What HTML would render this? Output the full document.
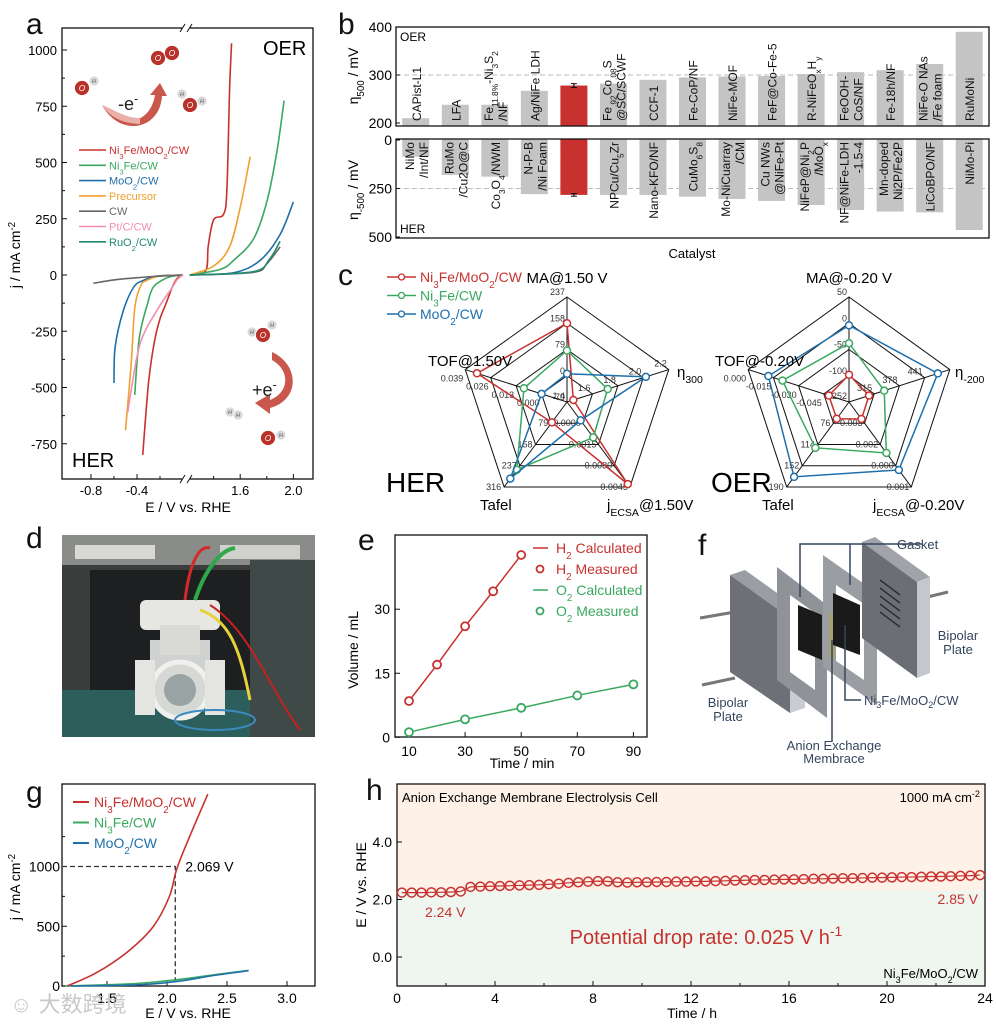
<!DOCTYPE html>
<html><head><meta charset="utf-8"><style>
html,body{margin:0;padding:0;background:#fff}
svg{display:block;font-family:"Liberation Sans","Noto Sans CJK SC",sans-serif}
</style></head><body>
<svg id="fig" width="996" height="1026" viewBox="0 0 996 1026" xmlns="http://www.w3.org/2000/svg">
<rect x="0" y="0" width="996" height="1026" fill="#fff"/>
<g font-size="30" fill="#111">
<text x="26" y="34">a</text>
<text x="338" y="34">b</text>
<text x="338" y="285">c</text>
<text x="26" y="548">d</text>
<text x="358" y="550">e</text>
<text x="698" y="555">f</text>
<text x="26" y="802">g</text>
<text x="366" y="800">h</text>
</g>
<g id="pa"></g>
<g id="pb"></g>
<g id="pc"></g>
<g id="pd">
 <rect x="62" y="535" width="253" height="202" fill="#3a3d3c"/>
 <rect x="62" y="535" width="253" height="30" fill="#8a8c8a"/>
 <rect x="75" y="545" width="80" height="14" fill="#d8d8d4"/>
 <rect x="220" y="545" width="80" height="14" fill="#d0d0cc"/>
 <rect x="62" y="690" width="253" height="47" fill="#2c5f5c"/>
 <rect x="90" y="570" width="190" height="120" fill="#1d1f20"/>
 <rect x="250" y="560" width="65" height="177" fill="#3f4a48"/>
 <path d="M150 640 h60 v40 h-60 z" fill="#cfd2d0"/>
 <rect x="140" y="600" width="80" height="30" rx="6" fill="#e6e6e2"/>
 <rect x="160" y="625" width="40" height="30" fill="#d9d9d5"/>
 <circle cx="180" cy="690" r="28" fill="#d6d8d6" stroke="#f0f0ee" stroke-width="5"/>
 <circle cx="180" cy="690" r="16" fill="#9aa3a3"/>
 <rect x="135" y="660" width="20" height="55" fill="#e4e4e0"/>
 <rect x="205" y="660" width="20" height="55" fill="#e4e4e0"/>
 <path d="M185 600 C190 560 200 545 210 548" stroke="#d62a2a" stroke-width="3" fill="none"/>
 <path d="M195 600 C205 570 220 550 235 548" stroke="#2fa84a" stroke-width="4" fill="none"/>
 <path d="M200 610 C230 620 240 650 250 700" stroke="#e8d23a" stroke-width="3" fill="none"/>
 <path d="M210 605 C250 630 270 690 300 730" stroke="#c62020" stroke-width="2" fill="none"/>
 <ellipse cx="215" cy="720" rx="40" ry="10" fill="none" stroke="#3a8ac0" stroke-width="2"/>
</g>
<g id="pe"></g>
<g id="pf">
 <line x1="700" y1="618" x2="735" y2="612" stroke="#777" stroke-width="3"/>
 <line x1="702" y1="685" x2="735" y2="678" stroke="#777" stroke-width="3"/>
 <line x1="915" y1="600" x2="948" y2="592" stroke="#777" stroke-width="3"/>
 <polygon points="730,575 745,570 805,613 790,618" fill="#9a9ea3"/>
 <polygon points="790,618 805,613 805,708 790,713" fill="#c9cdd1"/>
 <polygon points="730,575 790,618 790,713 730,672" fill="#6d7177"/>
 <polygon points="777,567 827,605 827,718 777,680" fill="#8f9398"/>
 <polygon points="790,595 815,613 815,690 790,672" fill="#fff"/>
 <polygon points="798,605 822,615 822,660 798,650" fill="#1a1a1a"/>
 <polygon points="823,555 877,593 877,705 823,667" fill="#9a9ea3"/>
 <polygon points="836,585 864,604 864,680 836,661" fill="#fff"/>
 <polygon points="829,612 835,615 835,660 829,657" fill="#a8a070"/>
 <polygon points="833,593 860,605 860,655 833,645" fill="#1a1a1a"/>
 <polygon points="862,542 875,537 930,577 917,582" fill="#a0a4a9"/>
 <polygon points="917,582 930,577 930,673 917,678" fill="#c4c8cc"/>
 <polygon points="862,542 917,582 917,678 862,638" fill="#6b6f75"/>
 <g stroke="#2a2c30" stroke-width="1.5"><line x1="880" y1="580" x2="900" y2="595"/><line x1="880" y1="588" x2="900" y2="603"/><line x1="880" y1="596" x2="900" y2="611"/><line x1="880" y1="604" x2="900" y2="619"/><line x1="880" y1="612" x2="900" y2="627"/></g>
 <g stroke="#34465e" stroke-width="1.5" fill="none">
  <polyline points="800,597 800,544 922,544"/><line x1="850" y1="544" x2="850" y2="585"/>
  <polyline points="845,625 845,700 861,700"/><line x1="832" y1="640" x2="832" y2="742"/>
 </g>
 <g fill="#34465e" font-size="13">
  <text x="897" y="549">Gasket</text>
  <text x="958" y="640" text-anchor="middle">Bipolar</text>
  <text x="958" y="654" text-anchor="middle">Plate</text>
  <text x="728" y="707" text-anchor="middle">Bipolar</text>
  <text x="728" y="721" text-anchor="middle">Plate</text>
  <text x="864" y="705">Ni<tspan font-size="9" dy="3">3</tspan><tspan dy="-3">Fe/MoO</tspan><tspan font-size="9" dy="3">2</tspan><tspan dy="-3">/CW</tspan></text>
  <text x="834" y="750" text-anchor="middle">Anion Exchange</text>
  <text x="834" y="763" text-anchor="middle">Membrace</text>
 </g>
</g>
<g id="pg"></g>
<g id="ph"></g>
<text x="10" y="1012" font-size="22" fill="#bbb" opacity="0.8">☺ 大数跨境</text>
</svg>
<script>
const NS='http://www.w3.org/2000/svg';
/* ---------- data: panel a ---------- */
const aNames=['Ni3Fe/MoO2/CW','Ni3Fe/CW','MoO2/CW','Precursor','CW','Pt/C/CW','RuO2/CW'];
const aLegend=['Ni_{3}Fe/MoO_{2}/CW','Ni_{3}Fe/CW','MoO_{2}/CW','Precursor','CW','Pt/C/CW','RuO_{2}/CW'];
const aColors=['#c8312f','#3aa860','#1f6fab','#f0a030','#666666','#f08fb0','#1f8a70'];
const aHER=[
 [[0,0],[-0.05,-15],[-0.09,-50],[-0.15,-130],[-0.2,-195],[-0.25,-300],[-0.3,-480],[-0.35,-800]],
 [[0,0],[-0.1,-6],[-0.17,-20],[-0.26,-55],[-0.31,-130],[-0.38,-280],[-0.42,-533]],
 [[0,0],[-0.23,-5],[-0.35,-25],[-0.43,-55],[-0.52,-160],[-0.59,-320],[-0.6,-480]],
 [[0,0],[-0.2,-5],[-0.32,-25],[-0.37,-50],[-0.42,-150],[-0.45,-390],[-0.5,-690]],
 [[0,0],[-0.2,-5],[-0.4,-12],[-0.6,-22],[-0.78,-37]],
 [[0,0],[-0.05,-20],[-0.1,-60],[-0.23,-160],[-0.37,-300],[-0.45,-510],[-0.48,-610]],
 []];
const aOER=[
 [[1.22,0],[1.34,18],[1.36,130],[1.40,245],[1.475,270],[1.5,380],[1.52,820],[1.535,1030]],
 [[1.22,0],[1.45,25],[1.55,65],[1.7,160],[1.8,325],[1.875,545],[1.93,775]],
 [[1.22,0],[1.55,10],[1.75,65],[1.9,180],[2.0,325]],
 [[1.22,0],[1.4,40],[1.52,125],[1.6,300],[1.675,525]],
 [[1.22,0],[1.7,12],[1.8,50],[1.9,125]],
 [],
 [[1.22,0],[1.7,15],[1.82,70],[1.9,150]]];
const aYTicks=[1000,750,500,250,0,-250,-500,-750];
const aXTicksL=[-0.8,-0.4];
const aXTicksR=[1.6,2.0];
/* ---------- data: panel b ---------- */
const bOerLabels=[['CAPist-L1'],['LFA'],['Fe_{11.8%}-Ni_{3}S_{2}','/NF'],['Ag/NiFe LDH'],['This','Work'],['Fe_{.92}Co_{.08}S','@SC/SCWF'],['CCF-1'],['Fe-CoP/NF'],['NiFe-MOF'],['FeF@Co-Fe-5'],['R-NiFeO_{x}H_{y}'],['FeOOH-','CoS/NF'],['Fe-18h/NF'],['NiFe-O NAs','/Fe foam'],['RuMoNi']];
const bOerVals=[210,238,238,267,278,282,290,295,297,298,302,306,310,323,390];
const bHerLabels=[['NiMo','/Int/NF'],['RuMo','/Cu2O@C'],['Co_{3}O_{4}/NWM'],['N-P-B','/Ni Foam'],['This','Work'],['NPCu/Cu_{5}Zr'],['Nano-KFO/NF'],['CuMo_{6}S_{8}'],['Mo-NiCuarray','/CM'],['Cu NWs','@NiFe-Pt'],['NiFeP@Ni_{2}P','/MoO_{x}'],['NF@NiFe-LDH','-1.5-4'],['Mn-doped','Ni2P/Fe2P'],['LiCoBPO/NF'],['NiMo-Pi']];
const bHerVals=[86,180,189,279,283,283,283,292,304,314,335,361,369,373,464];
const bHighlight=4;
const bOerTicks=[200,300,400];
const bHerTicks=[0,250,500];
/* ---------- data: panel c ---------- */
const cSeries=['Ni3Fe/MoO2/CW','Ni3Fe/CW','MoO2/CW'];
const cColors=['#c8312f','#3aa860','#1f6fab'];
const herMin=[-79,1.4,-0.0015,0,-0.013];
const herMax=[237,2.2,0.0045,316,0.039];
const herRed=[158,1.45,0.0043,76,0.033];
const herGreen=[76,1.72,0.0010,252,0.009];
const herBlue=[6,2.02,-0.0002,285,0.000];
const herTicks=[['-79','0','79','158','237'],['1.4','1.6','1.8','2.0','2.2'],['','0.0000','0.0015','0.0030','0.0045'],['','79','158','237','316'],['','0.000','0.013','0.026','0.039']];
const oerMin=[-150,252,0.004,38,-0.060];
const oerMax=[50,504,-0.001,190,0.015];
const oerRed=[-98,302,0.003,68,-0.045];
const oerGreen=[-38,340,0.001,120,-0.0105];
const oerBlue=[-4,474,0.000,172,0.000];
const oerTicks=[['','-100','-50','0','50'],['252','315','378','441',''],['','0.003','0.002','0.000','0.001'],['','76','114','152','190'],['','-0.045','-0.030','-0.015','0.000']];
/* ---------- data: panel e ---------- */
const eH2Time=[10,20,30,40,50];
const eH2Vol=[8.5,17,26,34.2,42.7];
const eO2Time=[10,30,50,70,90];
const eO2Vol=[1.2,4.2,6.9,9.8,12.4];
const eXTicks=[10,30,50,70,90];
const eYTicks=[0,15,30];
/* ---------- data: panel g ---------- */
const gRed=[[1.17,0],[1.41,110],[1.67,285],[1.885,497],[2.02,750],[2.08,975],[2.18,1230],[2.34,1605]];
const gGreen=[[1.15,0],[1.5,10],[1.8,25],[2.1,55],[2.4,95],[2.68,130]];
const gBlue=[[1.2,0],[1.5,4],[1.8,12],[2.1,40],[2.4,90],[2.68,128]];
const gMark=[2.069,1000];
const gXTicks=[1.5,2.0,2.5,3.0];
const gYTicks=[0,500,1000];
/* ---------- data: panel h ---------- */
const hTime=[0.2,0.6,1.0,1.4,1.8,2.2,2.6,3.0,3.4,3.8,4.2,4.6,5.0,5.4,5.8,6.2,6.6,7.0,7.4,7.8,8.2,8.6,9.0,9.4,9.8,10.2,10.6,11.0,11.4,11.8,12.2,12.6,13.0,13.4,13.8,14.2,14.6,15.0,15.4,15.8,16.2,16.6,17.0,17.4,17.8,18.2,18.6,19.0,19.4,19.8,20.2,20.6,21.0,21.4,21.8,22.2,22.6,23.0,23.4,23.8];
const hVolt=[2.24,2.24,2.24,2.25,2.25,2.26,2.28,2.44,2.45,2.46,2.47,2.48,2.49,2.50,2.51,2.53,2.55,2.58,2.60,2.62,2.64,2.63,2.60,2.59,2.60,2.60,2.61,2.61,2.62,2.62,2.63,2.63,2.64,2.65,2.66,2.67,2.68,2.68,2.69,2.70,2.70,2.71,2.72,2.72,2.73,2.74,2.74,2.75,2.76,2.76,2.77,2.78,2.78,2.79,2.80,2.80,2.81,2.82,2.83,2.85];
const hXTicks=[0,4,8,12,16,20,24];
const hYTicks=[0.0,2.0,4.0];

/* ---------- helpers ---------- */
function mk(tag,attrs,parent){const e=document.createElementNS(NS,tag);for(const k in attrs)e.setAttribute(k,attrs[k]);parent.appendChild(e);return e;}
function rich(el,s){
 const re=/([_^])\{([^}]*)\}/g;let last=0,m;
 while((m=re.exec(s))){
  if(m.index>last){const t=mk('tspan',{},el);t.textContent=s.slice(last,m.index);}
  const t=mk('tspan',{'font-size':'70%','baseline-shift':m[1]==='_'?'sub':'super'},el);t.textContent=m[2];last=re.lastIndex;}
 if(last<s.length){const t=mk('tspan',{},el);t.textContent=s.slice(last);}
}
function txt(parent,x,y,s,attrs){const e=mk('text',Object.assign({x:x,y:y},attrs||{}),parent);rich(e,s);return e;}
function smooth(pts){
 if(pts.length<3)return 'M'+pts.map(p=>p.join(' ')).join(' L');
 let d='M'+pts[0][0]+' '+pts[0][1];
 for(let i=0;i<pts.length-1;i++){
  const p0=pts[i-1]||pts[i],p1=pts[i],p2=pts[i+1],p3=pts[i+2]||p2;
  const c1=[p1[0]+(p2[0]-p0[0])/6,p1[1]+(p2[1]-p0[1])/6],c2=[p2[0]-(p3[0]-p1[0])/6,p2[1]-(p3[1]-p1[1])/6];
  d+=' C'+c1.join(' ')+' '+c2.join(' ')+' '+p2.join(' ');}
 return d;}

/* ---------- panel a ---------- */
(function(){
 const g=document.getElementById('pa');
 const xL=E=>183+115*E, xR=E=>187+133*(E-1.2), y=j=>275-0.225*j;
 mk('rect',{x:62,y:28,width:251,height:451,fill:'none',stroke:'#111','stroke-width':1.3},g);
 aYTicks.forEach(v=>{mk('line',{x1:62,y1:y(v),x2:67,y2:y(v),stroke:'#111'},g);
  const t=txt(g,57,y(v)+5,String(v),{'text-anchor':'end','font-size':13});
  
  });
 aYTicks.slice(0,-1).forEach(v=>{mk('line',{x1:62,y1:y(v-125),x2:65,y2:y(v-125),stroke:'#111'},g);});
 aXTicksL.forEach(v=>{mk('line',{x1:xL(v),y1:479,x2:xL(v),y2:474,stroke:'#111'},g);
  const t=txt(g,xL(v),495,v.toFixed(1),{'text-anchor':'middle','font-size':13});
  
  });
 aXTicksR.forEach(v=>{mk('line',{x1:xR(v),y1:479,x2:xR(v),y2:474,stroke:'#111'},g);
  const t=txt(g,xR(v),495,v.toFixed(1),{'text-anchor':'middle','font-size':13});
  
  });
 [-0.6,-0.2].forEach(v=>mk('line',{x1:xL(v),y1:479,x2:xL(v),y2:476,stroke:'#111'},g));
 [1.4,1.8].forEach(v=>mk('line',{x1:xR(v),y1:479,x2:xR(v),y2:476,stroke:'#111'},g));
 [28,479].forEach(yy=>{mk('rect',{x:182,y:yy-3,width:8,height:6,fill:'#fff'},g);
  mk('line',{x1:180,y1:yy+4,x2:185,y2:yy-4,stroke:'#111'},g);mk('line',{x1:187,y1:yy+4,x2:192,y2:yy-4,stroke:'#111'},g);});
 const yt=txt(g,0,0,'j / mA cm^{-2}',{'font-size':14,transform:'translate(20,255) rotate(-90)','text-anchor':'middle'});
 
 
 const xt=txt(g,188,512,'E / V vs. RHE',{'font-size':14,'text-anchor':'middle'});
 
 
 txt(g,263,55,'OER',{'font-size':20});
 txt(g,72,467,'HER',{'font-size':20});
 aNames.forEach((n,i)=>{
  if(aHER[i].length){const p=mk('path',{d:smooth(aHER[i].map(q=>[xL(q[0]),y(q[1])])),fill:'none',stroke:aColors[i],'stroke-width':1.6},g);
   
   }
  if(aOER[i].length){const p=mk('path',{d:smooth(aOER[i].map(q=>[xR(q[0]),y(q[1])])),fill:'none',stroke:aColors[i],'stroke-width':1.6},g);
   
   }
  const yy=150+i*15.3;
  mk('line',{x1:79,y1:yy,x2:106,y2:yy,stroke:aColors[i],'stroke-width':1.6},g);
  const t=txt(g,109,yy+4,aLegend[i],{'font-size':11,fill:aColors[i]});
  
  
 });
 function atom(cx,cy,r,f,l,col){mk('circle',{cx:cx,cy:cy,r:r,fill:f,stroke:'#fff','stroke-width':0.8},g);txt(g,cx,cy+r*0.4,l,{'font-size':r*1.1,'text-anchor':'middle',fill:col,'font-style':'italic'});}
 const R='#b8312a',H='#d8d8d8';
 atom(158,58,7.5,R,'O','#fff');atom(172,53,7.5,R,'O','#fff');
 atom(94,81,5,H,'H','#555');atom(82,88,7.5,R,'O','#fff');
 atom(182,94,5,H,'H','#555');atom(202,101,5,H,'H','#555');atom(190,105,7.5,R,'O','#fff');
 mk('path',{d:'M102 105 C120 130 150 125 155 95 L150 95 L160 83 L167 96 L162 96 C160 130 120 138 102 105 Z',fill:'#c0392b',opacity:0.85},g);
 mk('path',{d:'M102 105 C115 110 125 118 140 118 L140 124 C125 124 110 118 102 105 Z',fill:'#e8b0a8'},g);
 txt(g,118,110,'-e^{-}',{'font-size':18,fill:'#222'});
 atom(252,332,5,H,'H','#555');atom(272,325,5,H,'H','#555');atom(263,335,7.5,R,'O','#fff');
 mk('path',{d:'M272 352 C300 365 300 400 270 408 L270 414 L255 403 L270 394 L270 400 C290 392 290 370 272 360 Z',fill:'#c0392b',opacity:0.85},g);
 txt(g,252,396,'+e^{-}',{'font-size':18,fill:'#222'});
 atom(230,412,5,H,'H','#555');atom(238,415,5,H,'H','#555');
 atom(268,438,7.5,R,'O','#fff');atom(281,435,5,H,'H','#555');
})();

/* ---------- panel b ---------- */
(function(){
 const g=document.getElementById('pb');
 const x0=396,x1=989,n=bOerVals.length,w=(x1-x0)/n;
 const yO=v=>123-(v-200)*0.48, yH=v=>140+v*0.194;
 const cx=i=>x0+w*(i+0.5);
 mk('line',{x1:x0,y1:yO(300),x2:x1,y2:yO(300),stroke:'#bbb','stroke-dasharray':'5 3'},g);
 mk('line',{x1:x0,y1:yH(250),x2:x1,y2:yH(250),stroke:'#bbb','stroke-dasharray':'5 3'},g);
 bOerVals.forEach((v,i)=>{const b=mk('rect',{x:cx(i)-13.5,y:yO(v),width:27,height:126-yO(v),fill:i===bHighlight?'#c8312f':'#c4c4c4'},g);
  
  });
 bHerVals.forEach((v,i)=>{const b=mk('rect',{x:cx(i)-13.5,y:139,width:27,height:yH(v)-139,fill:i===bHighlight?'#c8312f':'#c4c4c4'},g);
  
  });
 const ec=cx(bHighlight);
 [[yO(bOerVals[bHighlight]-4),yO(bOerVals[bHighlight]+4)],[yH(bHerVals[bHighlight]-7),yH(bHerVals[bHighlight]+7)]].forEach(p=>{
  mk('line',{x1:ec,y1:p[0],x2:ec,y2:p[1],stroke:'#111','stroke-width':1.2},g);
  mk('line',{x1:ec-3,y1:p[0],x2:ec+3,y2:p[0],stroke:'#111'},g);mk('line',{x1:ec-3,y1:p[1],x2:ec+3,y2:p[1],stroke:'#111'},g);});
 mk('rect',{x:x0,y:27,width:x1-x0,height:99,fill:'none',stroke:'#111','stroke-width':1.3},g);
 mk('rect',{x:x0,y:139,width:x1-x0,height:99,fill:'none',stroke:'#111','stroke-width':1.3},g);
 bOerLabels.forEach((L,i)=>{L.forEach((s,k)=>{
  const xx=cx(i)+(L.length===1?5:(k===0?-2:12));
  const t=txt(g,0,0,s,{'font-size':12,fill:i===bHighlight?'#c8312f':'#111',transform:`translate(${xx},121) rotate(-90)`});
  
  });});
 bHerLabels.forEach((L,i)=>{L.forEach((s,k)=>{
  const xx=cx(i)+(L.length===1?5:(k===0?-2:12));
  const t=txt(g,0,0,s,{'font-size':12,'text-anchor':'end',fill:i===bHighlight?'#c8312f':'#111',transform:`translate(${xx},142) rotate(-90)`});
  
  });});
 bOerTicks.forEach(v=>{mk('line',{x1:x0,y1:yO(v),x2:x0+4,y2:yO(v),stroke:'#111'},g);
  const t=txt(g,x0-4,yO(v)+5,String(v),{'text-anchor':'end','font-size':14});
  
  });
 bHerTicks.forEach(v=>{mk('line',{x1:x0,y1:yH(v),x2:x0+4,y2:yH(v),stroke:'#111'},g);
  const t=txt(g,x0-4,yH(v)+5,String(v),{'text-anchor':'end','font-size':14});
  
  });
 txt(g,400,41,'OER',{'font-size':12});
 txt(g,400,233,'HER',{'font-size':12});
 const t1=txt(g,0,0,'η_{500} / mV',{'font-size':14,'text-anchor':'middle',transform:'translate(358,76) rotate(-90)'});
 
 
 const t2=txt(g,0,0,'η_{-500} / mV',{'font-size':14,'text-anchor':'middle',transform:'translate(358,190) rotate(-90)'});
 
 
 const t3=txt(g,692,258,'Catalyst',{'font-size':13,'text-anchor':'middle'});
 
 
})();

/* ---------- panel c ---------- */
(function(){
 const g=document.getElementById('pc');
 function radar(cx,cy,rx,ry,mins,maxs,series,ticks,labels,title){
  const ang=k=>(-90+72*k)*Math.PI/180;
  const pt=(k,f)=>[cx+rx*f*Math.cos(ang(k)),cy+ry*f*Math.sin(ang(k))];
  [0.25,0.5,0.75,1].forEach(f=>{mk('polygon',{points:[0,1,2,3,4].map(k=>pt(k,f).join(',')).join(' '),fill:'none',stroke:'#111','stroke-width':1},g);});
  [0,1,2,3,4].forEach(k=>{const p=pt(k,1);mk('line',{x1:cx,y1:cy,x2:p[0],y2:p[1],stroke:'#111','stroke-width':1},g);
   ticks[k].forEach((s,j)=>{if(!s)return;const q=pt(k,j*0.25);
    const dx=k===4?-2:(k===3?-3:-2), dy=k===4?12:(k===0?-2:(k===1?-3:3));
    txt(g,q[0]+dx,q[1]+dy,s,{'font-size':9,'text-anchor':k===1||k===2?'end':'end',fill:'#333'});});});
  series.forEach((vals,si)=>{
   const pts=vals.map((v,k)=>pt(k,(v-mins[k])/(maxs[k]-mins[k])));
   const pg=mk('polygon',{points:pts.map(p=>p.join(',')).join(' '),fill:'none',stroke:cColors[si],'stroke-width':1.5},g);
   
   
   pts.forEach(p=>{const c=mk('circle',{cx:p[0],cy:p[1],r:3.5,fill:'#fff',stroke:cColors[si],'stroke-width':1.5},g);
    
    });
  });
  labels.forEach(L=>{const t=txt(g,L[1],L[2],L[0],{'font-size':15,'text-anchor':L[3]||'start'});
   
   });
  txt(g,title[1],title[2],title[0],{'font-size':28});
 }
 radar(567,402,107,105,herMin,herMax,[herRed,herGreen,herBlue],herTicks,
  [['MA@1.50 V',567,283,'middle'],['TOF@1.50V',428,366],['η_{300}',677,377],['Tafel',480,510],['j_{ECSA}@1.50V',607,510]],['HER',386,492]);
 radar(849,402,106,105,oerMin,oerMax,[oerRed,oerGreen,oerBlue],oerTicks,
  [['MA@-0.20 V',849,283,'middle'],['TOF@-0.20V',715,366],['η_{-200}',955,377],['Tafel',762,510],['j_{ECSA}@-0.20V',873,510]],['OER',711,492]);
 cSeries.forEach((s,i)=>{const yy=277+i*18.5;
  mk('line',{x1:387,y1:yy,x2:416,y2:yy,stroke:cColors[i],'stroke-width':1.5},g);
  mk('circle',{cx:401.5,cy:yy,r:3,fill:'#fff',stroke:cColors[i],'stroke-width':1.3},g);
  const t=txt(g,420,yy+5,['Ni_{3}Fe/MoO_{2}/CW','Ni_{3}Fe/CW','MoO_{2}/CW'][i],{'font-size':14,fill:cColors[i]});
  
  });
})();

/* ---------- panel e ---------- */
(function(){
 const g=document.getElementById('pe');
 const x=t=>409+(t-10)*2.805, y=v=>737.3-v*4.27;
 mk('rect',{x:395,y:535,width:252,height:202,fill:'none',stroke:'#111','stroke-width':1.3},g);
 eXTicks.forEach(v=>{mk('line',{x1:x(v),y1:737,x2:x(v),y2:732,stroke:'#111'},g);
  const t=txt(g,x(v),756,String(v),{'text-anchor':'middle','font-size':14});
  
  });
 eYTicks.forEach(v=>{mk('line',{x1:395,y1:y(v),x2:400,y2:y(v),stroke:'#111'},g);
  const t=txt(g,390,y(v)+5,String(v),{'text-anchor':'end','font-size':14});
  
  });
 const tx=txt(g,522,768,'Time / min',{'text-anchor':'middle','font-size':14});
 
 
 const ty=txt(g,0,0,'Volume / mL',{'text-anchor':'middle','font-size':14,transform:'translate(358,650) rotate(-90)'});
 
 
 [[eH2Time,eH2Vol,'#c8312f'],[eO2Time,eO2Vol,'#3aa860']].forEach(S=>{
  const l=mk('polyline',{points:S[0].map((t,i)=>x(t)+','+y(S[1][i])).join(' '),fill:'none',stroke:S[2],'stroke-width':1.5},g);
  
  
  S[0].forEach((t,i)=>{const c=mk('circle',{cx:x(t),cy:y(S[1][i]),r:4,fill:'#fff',stroke:S[2],'stroke-width':1.8},g);
   
   });
 });
 const leg=[['—','H_{2} Calculated','#c8312f'],['o','H_{2} Measured','#c8312f'],['—','O_{2} Calculated','#3aa860'],['o','O_{2} Measured','#3aa860']];
 leg.forEach((L,i)=>{const yy=548+i*21;
  if(L[0]==='—')mk('line',{x1:533,y1:yy,x2:548,y2:yy,stroke:L[2],'stroke-width':1.5},g);
  else mk('circle',{cx:540,cy:yy,r:3.5,fill:'#fff',stroke:L[2],'stroke-width':1.8},g);
  const t=txt(g,556,yy+5,L[1],{'font-size':14,fill:L[2]});
  
  });
})();

/* ---------- panel g ---------- */
(function(){
 const g=document.getElementById('pg');
 const x=E=>107+120*(E-1.5), y=j=>986-0.1195*j;
 mk('rect',{x:62,y:784,width:253,height:202,fill:'none',stroke:'#111','stroke-width':1.3},g);
 gXTicks.forEach(v=>{mk('line',{x1:x(v),y1:986,x2:x(v),y2:981,stroke:'#111'},g);
  const t=txt(g,x(v),1003,v.toFixed(1),{'text-anchor':'middle','font-size':14});
  
  });
 gYTicks.forEach(v=>{mk('line',{x1:62,y1:y(v),x2:67,y2:y(v),stroke:'#111'},g);
  const t=txt(g,60,y(v)+5,String(v),{'text-anchor':'end','font-size':14});
  
  });
 [250,750,1250].forEach(v=>mk('line',{x1:62,y1:y(v),x2:65,y2:y(v),stroke:'#111'},g));
 const ty=txt(g,0,0,'j / mA cm^{-2}',{'text-anchor':'middle','font-size':14,transform:'translate(20,887) rotate(-90)'});
 
 
 const tx=txt(g,188,1018,'E / V vs. RHE',{'text-anchor':'middle','font-size':14});
 
 
 mk('polyline',{points:`62,${y(gMark[1])} ${x(gMark[0])},${y(gMark[1])} ${x(gMark[0])},986`,fill:'none',stroke:'#333','stroke-dasharray':'5 3','stroke-width':1.3},g);
 txt(g,x(gMark[0])+10,y(gMark[1])+5,gMark[0].toFixed(3)+' V',{'font-size':14});
 [[gGreen,'#3aa860'],[gBlue,'#1f6fab'],[gRed,'#c8312f']].forEach(S=>{
  const p=mk('path',{d:smooth(S[0].map(q=>[x(q[0]),y(q[1])])),fill:'none',stroke:S[1],'stroke-width':1.6},g);
  
  });
 ['Ni_{3}Fe/MoO_{2}/CW','Ni_{3}Fe/CW','MoO_{2}/CW'].forEach((s,i)=>{const yy=802+i*20.5,c=cColors[i];
  mk('line',{x1:73,y1:yy,x2:89,y2:yy,stroke:c,'stroke-width':2},g);
  const t=txt(g,94,yy+5,s,{'font-size':14,fill:c});
  
  });
})();

/* ---------- panel h ---------- */
(function(){
 const g=document.getElementById('ph');
 const x=t=>397+t*24.5, y=v=>957-28.75*v;
 mk('rect',{x:397,y:784,width:588,height:y(2.3)-784,fill:'#fdf1e8'},g);
 mk('rect',{x:397,y:y(2.3),width:588,height:986-y(2.3),fill:'#eef6ef'},g);
 mk('rect',{x:397,y:784,width:588,height:202,fill:'none',stroke:'#111','stroke-width':1.3},g);
 hXTicks.forEach(v=>{mk('line',{x1:x(v),y1:986,x2:x(v),y2:981,stroke:'#111'},g);
  const t=txt(g,x(v),1003,String(v),{'text-anchor':'middle','font-size':14});
  
  });
 [2,6,10,14,18,22].forEach(v=>mk('line',{x1:x(v),y1:986,x2:x(v),y2:983,stroke:'#111'},g));
 hYTicks.forEach(v=>{mk('line',{x1:397,y1:y(v),x2:402,y2:y(v),stroke:'#111'},g);
  const t=txt(g,392,y(v)+5,v.toFixed(1),{'text-anchor':'end','font-size':14});
  
  });
 const tx=txt(g,692,1018,'Time / h',{'text-anchor':'middle','font-size':14});
 
 
 const ty=txt(g,0,0,'E / V vs. RHE',{'text-anchor':'middle','font-size':14,transform:'translate(366,885) rotate(-90)'});
 
 
 const ln=mk('polyline',{points:hTime.map((t,i)=>x(t)+','+y(hVolt[i])).join(' '),fill:'none',stroke:'#c8312f','stroke-width':1.2},g);
 
 
 hTime.forEach((t,i)=>{const c=mk('circle',{cx:x(t),cy:y(hVolt[i]),r:4.5,fill:'none',stroke:'#c8312f','stroke-width':1.5},g);
  
  });
 txt(g,402,802,'Anion Exchange Membrane Electrolysis Cell',{'font-size':13});
 txt(g,980,802,'1000 mA cm^{-2}',{'font-size':13,'text-anchor':'end'});
 txt(g,425,917,hVolt[0].toFixed(2)+' V',{'font-size':14,fill:'#c8312f'});
 txt(g,978,904,hVolt[hVolt.length-1].toFixed(2)+' V',{'font-size':14,fill:'#c8312f','text-anchor':'end'});
 txt(g,706,944,'Potential drop rate: 0.025 V h^{-1}',{'font-size':20,fill:'#c8312f','text-anchor':'middle'});
 txt(g,978,978,'Ni_{3}Fe/MoO_{2}/CW',{'font-size':13,'text-anchor':'end'});
})();
</script>
</body></html>
